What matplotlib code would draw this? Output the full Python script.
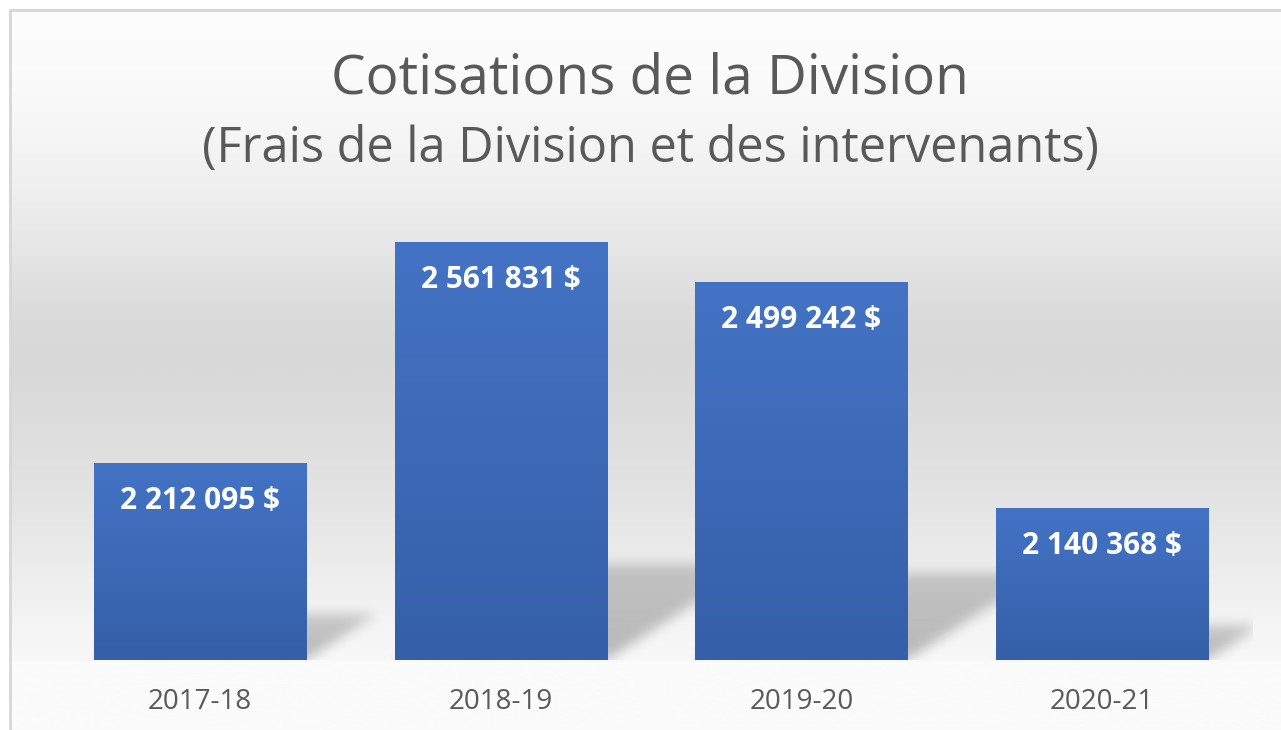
import numpy as np
import matplotlib.pyplot as plt

# données
annees = ["2017-18", "2018-19", "2019-20", "2020-21"]
cotisations = [2212095, 2561831, 2499242, 2140368]

titre = "Cotisations de la Division"
sous_titre = "(Frais de la Division et des intervenants)"

ymin, ymax = 1900000, 2600000
largeur = 0.705
gris = "#595959"

W, H = 1281, 730
fig = plt.figure(figsize=(W / 100, H / 100), dpi=100)

# fond en dégradé (blanc -> gris -> blanc)
bg = fig.add_axes([0, 0, 1, 1], zorder=-5)
bg.set_xlim(0, W)
bg.set_ylim(H, 0)
bg.axis("off")
rows = np.arange(H)
stops_y = [0, 60, 120, 180, 230, 300, 350, 420, 500, 560, 620, 658, 662, 730]
stops_v = [253, 251, 246, 239, 232, 220, 216, 221, 228, 236, 244, 248, 251, 251]
col = np.interp(rows, stops_y, stops_v) / 255
grad = np.dstack([col[:, None]] * 3)
bg.imshow(grad, extent=(10, W + 20, H, 10), aspect="auto", interpolation="bilinear")
bg.plot([10, 10, W + 5], [H + 5, 10, 10], color="#d6d6d6", lw=2, solid_capstyle="butt")

# axe principal
ax = fig.add_axes([49.5 / W, 70 / H, 1203 / W, 442 / H])
ax.set_facecolor("none")
x = np.arange(len(annees))
ax.set_xlim(-0.5, len(annees) - 0.5)
ax.set_ylim(ymin, ymax)

# ombres portées (parallélogrammes flous)
nx, ny = 1203, 442
gx = np.linspace(-0.5, len(annees) - 0.5, nx)
gy = np.linspace(ymin, ymax, ny)
XX, YY = np.meshgrid(gx, gy)
mask = np.zeros_like(XX)
for i, v in enumerate(cotisations):
    h = 0.23 * (v - ymin)
    dx = 1.55 * h * (442 / (ymax - ymin)) / 301
    t = (YY - ymin) / h
    inside = (t >= 0) & (t <= 1) & (XX >= i - largeur / 2 + t * dx) & (XX <= i + largeur / 2 + t * dx)
    mask = np.maximum(mask, inside * (1 - 0.3 * np.clip(t, 0, 1)))
sig = 6
k = np.exp(-0.5 * (np.arange(-3 * sig, 3 * sig + 1) / sig) ** 2)
k /= k.sum()
mask = np.apply_along_axis(lambda r: np.convolve(r, k, mode="same"), 1, mask)
mask = np.apply_along_axis(lambda c: np.convolve(c, k, mode="same"), 0, mask)
ombre = np.zeros((ny, nx, 4))
ombre[..., 3] = 0.26 * mask
ax.imshow(ombre, extent=(-0.5, len(annees) - 0.5, ymin, ymax), origin="lower",
          aspect="auto", zorder=1, interpolation="bilinear")

# barres avec dégradé bleu
bars = ax.bar(x, np.array(cotisations) - ymin, bottom=ymin, width=largeur,
              color="#3d68b8", zorder=2)
top_c = np.array([68, 115, 197]) / 255
bot_c = np.array([53, 95, 168]) / 255
tt = np.linspace(0, 1, 256)[:, None]
bgrad = (bot_c * (1 - tt) + top_c * tt)[:, None, :]
for b in bars:
    x0, y0 = b.get_x(), b.get_y()
    im = ax.imshow(bgrad, extent=(x0, x0 + b.get_width(), y0, y0 + b.get_height()),
                   origin="lower", aspect="auto", zorder=3, interpolation="bilinear")
    im.set_clip_path(b)

for xi, v in zip(x, cotisations):
    lab = f"{v:,}".replace(",", " ") + " $"
    ax.annotate(lab, (xi, v), xytext=(0, -38), textcoords="offset pixels",
                ha="center", va="center", color="white", fontsize=21.5,
                fontweight="bold", family="Open Sans", zorder=5)

ax.set_xticks(x)
ax.set_xticklabels(annees, fontsize=20, color=gris, family="Open Sans")
ax.tick_params(axis="x", length=0, pad=20)
ax.set_yticks([])
for s in ax.spines.values():
    s.set_visible(False)
ax.set_ylim(ymin, ymax)

fig.text(650 / W, 1 - 94 / H, titre, ha="center", va="baseline", fontsize=39.5,
         color=gris, family="Open Sans")
fig.text(650 / W, 1 - 162 / H, sous_titre, ha="center", va="baseline", fontsize=35,
         color=gris, family="Open Sans")

fig.savefig("out.png", dpi=100)
